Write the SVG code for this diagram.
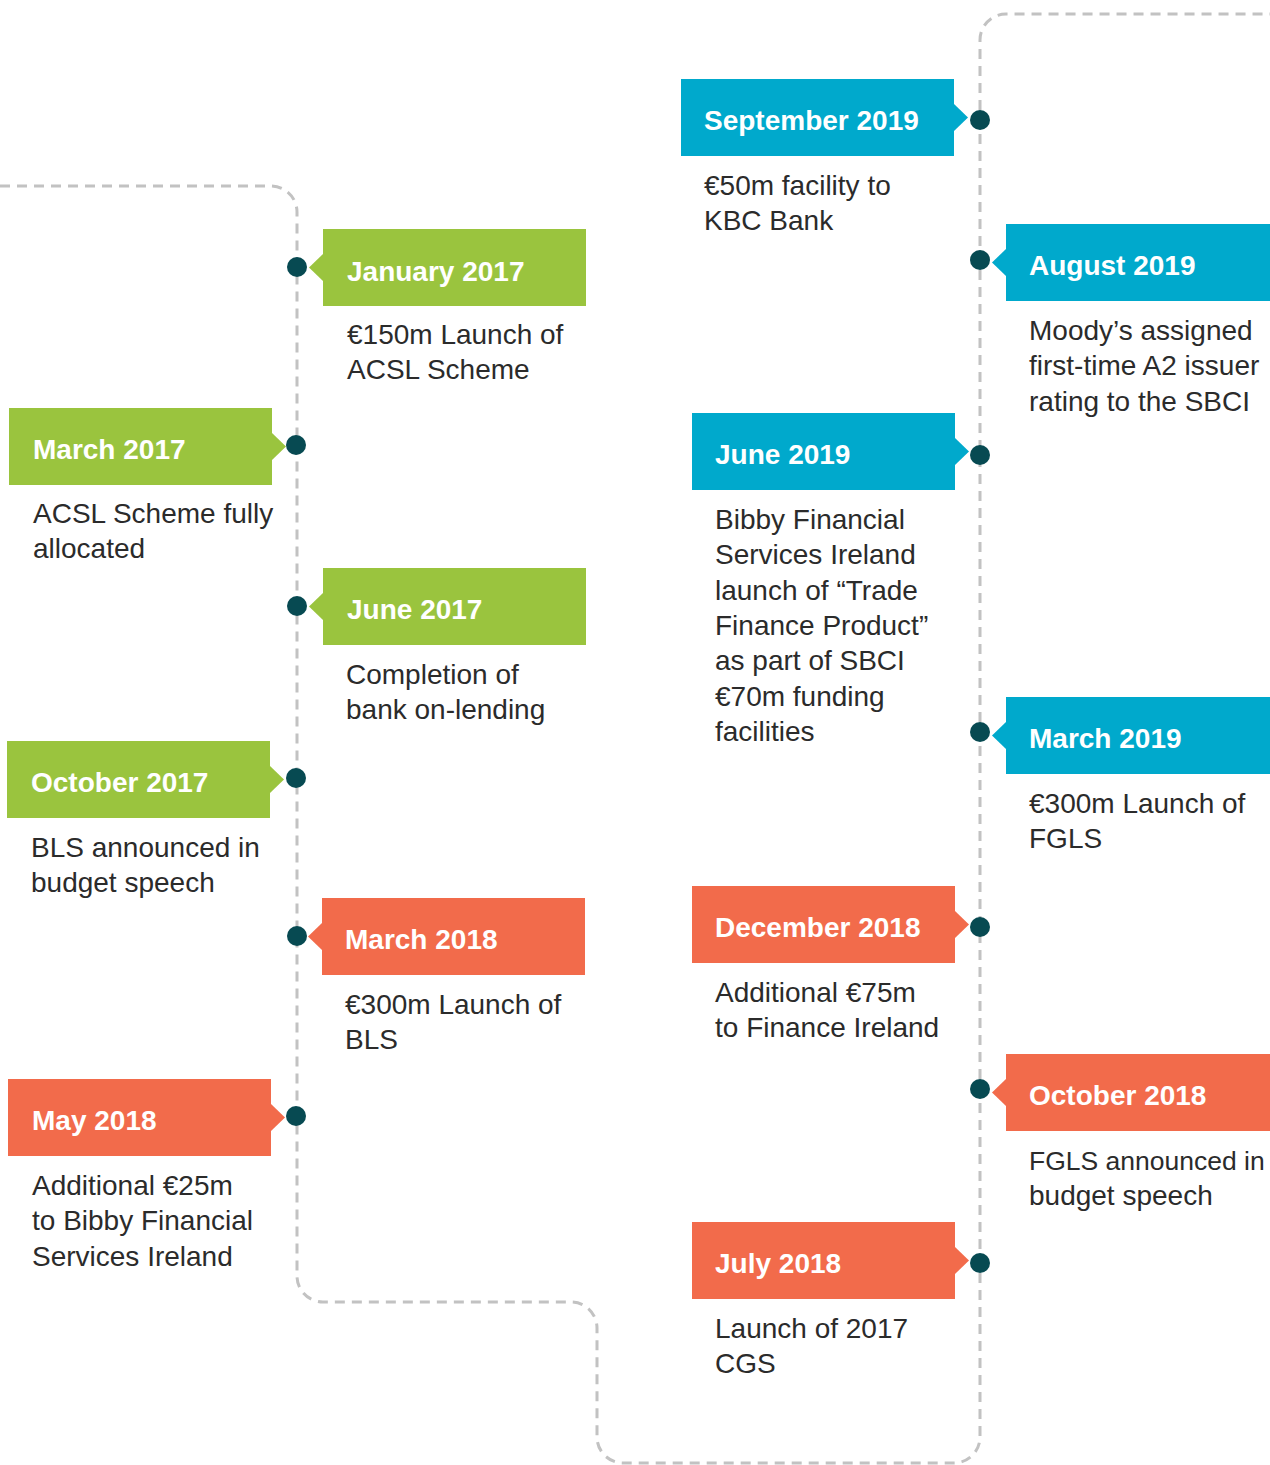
<svg xmlns="http://www.w3.org/2000/svg" width="1270" height="1465" viewBox="0 0 1270 1465">
<style>
.g{fill:#9ac43e}.b{fill:#00a9cc}.o{fill:#f26b4b}
.dot{fill:#074a52}
.t{font-family:"Liberation Sans",Arial,sans-serif;font-weight:bold;font-size:28px;fill:#ffffff}
.d{font-family:"Liberation Sans",Arial,sans-serif;font-size:28px;fill:#2b2b2b}
.line{fill:none;stroke:#c2c2c2;stroke-width:3;stroke-dasharray:10 7}
</style>
<rect width="1270" height="1465" fill="#ffffff"/>
<g id="connectors">
<path class="line" d="M0,186 H271 A26,26 0 0 1 297,212 V1276 A26,26 0 0 0 323,1302 H571 A26,26 0 0 1 597,1328 V1437 A26,26 0 0 0 623,1463 H954 A26,26 0 0 0 980,1437 V40 A26,26 0 0 1 1006,14 H1270"/>
</g>
<g id="n-jan2017">
<rect class="g" x="323" y="229" width="263" height="77"/>
<polygon class="g" points="323,254 309,267.5 323,281"/>
<circle class="dot" cx="297" cy="267" r="10"/>
<text class="t" x="347" y="281">January 2017</text>
<text class="d" x="347" y="344"><tspan x="347">€150m Launch of</tspan><tspan x="347" dy="35.3">ACSL Scheme</tspan></text>
</g>
<g id="n-mar2017">
<rect class="g" x="9" y="408" width="263" height="77"/>
<polygon class="g" points="272,433 286,446.5 272,460"/>
<circle class="dot" cx="296" cy="445" r="10"/>
<text class="t" x="33" y="459">March 2017</text>
<text class="d" x="33" y="523"><tspan x="33">ACSL Scheme fully</tspan><tspan x="33" dy="35.3">allocated</tspan></text>
</g>
<g id="n-jun2017">
<rect class="g" x="323" y="568" width="263" height="77"/>
<polygon class="g" points="323,593 309,606.5 323,620"/>
<circle class="dot" cx="297" cy="606" r="10"/>
<text class="t" x="347" y="619">June 2017</text>
<text class="d" x="346" y="684"><tspan x="346">Completion of</tspan><tspan x="346" dy="35.3">bank on-lending</tspan></text>
</g>
<g id="n-oct2017">
<rect class="g" x="7" y="741" width="263" height="77"/>
<polygon class="g" points="270,766 284,779.5 270,793"/>
<circle class="dot" cx="296" cy="778" r="10"/>
<text class="t" x="31" y="792">October 2017</text>
<text class="d" x="31" y="857"><tspan x="31">BLS announced in</tspan><tspan x="31" dy="35.3">budget speech</tspan></text>
</g>
<g id="n-mar2018">
<rect class="o" x="322" y="898" width="263" height="77"/>
<polygon class="o" points="322,923 308,936.5 322,950"/>
<circle class="dot" cx="297" cy="936" r="10"/>
<text class="t" x="345" y="949">March 2018</text>
<text class="d" x="345" y="1014"><tspan x="345">€300m Launch of</tspan><tspan x="345" dy="35.3">BLS</tspan></text>
</g>
<g id="n-may2018">
<rect class="o" x="8" y="1079" width="263" height="77"/>
<polygon class="o" points="271,1104 285,1117.5 271,1131"/>
<circle class="dot" cx="296" cy="1116" r="10"/>
<text class="t" x="32" y="1130">May 2018</text>
<text class="d" x="32" y="1195"><tspan x="32">Additional €25m</tspan><tspan x="32" dy="35.3">to Bibby Financial</tspan><tspan x="32" dy="35.3">Services Ireland</tspan></text>
</g>
<g id="n-sep2019">
<rect class="b" x="681" y="79" width="273" height="77"/>
<polygon class="b" points="954,104 968,117.5 954,131"/>
<circle class="dot" cx="980" cy="120" r="10"/>
<text class="t" x="704" y="130">September 2019</text>
<text class="d" x="704" y="195"><tspan x="704">€50m facility to</tspan><tspan x="704" dy="35.3">KBC Bank</tspan></text>
</g>
<g id="n-aug2019">
<rect class="b" x="1006" y="224" width="264" height="77"/>
<polygon class="b" points="1006,249 992,262.5 1006,276"/>
<circle class="dot" cx="980" cy="260" r="10"/>
<text class="t" x="1029" y="275">August 2019</text>
<text class="d" x="1029" y="340"><tspan x="1029">Moody’s assigned</tspan><tspan x="1029" dy="35.3">first-time A2 issuer</tspan><tspan x="1029" dy="35.3">rating to the SBCI</tspan></text>
</g>
<g id="n-jun2019">
<rect class="b" x="692" y="413" width="263" height="77"/>
<polygon class="b" points="955,438 969,451.5 955,465"/>
<circle class="dot" cx="980" cy="455" r="10"/>
<text class="t" x="715" y="464">June 2019</text>
<text class="d" x="715" y="529"><tspan x="715">Bibby Financial</tspan><tspan x="715" dy="35.3">Services Ireland</tspan><tspan x="715" dy="35.3">launch of “Trade</tspan><tspan x="715" dy="35.3">Finance Product”</tspan><tspan x="715" dy="35.3">as part of SBCI</tspan><tspan x="715" dy="35.3">€70m funding</tspan><tspan x="715" dy="35.3">facilities</tspan></text>
</g>
<g id="n-mar2019">
<rect class="b" x="1006" y="697" width="264" height="77"/>
<polygon class="b" points="1006,722 992,735.5 1006,749"/>
<circle class="dot" cx="980" cy="732" r="10"/>
<text class="t" x="1029" y="748">March 2019</text>
<text class="d" x="1029" y="813"><tspan x="1029">€300m Launch of</tspan><tspan x="1029" dy="35.3">FGLS</tspan></text>
</g>
<g id="n-dec2018">
<rect class="o" x="692" y="886" width="263" height="77"/>
<polygon class="o" points="955,911 969,924.5 955,938"/>
<circle class="dot" cx="980" cy="927" r="10"/>
<text class="t" x="715" y="937">December 2018</text>
<text class="d" x="715" y="1002"><tspan x="715">Additional €75m</tspan><tspan x="715" dy="35.3">to Finance Ireland</tspan></text>
</g>
<g id="n-oct2018">
<rect class="o" x="1006" y="1054" width="264" height="77"/>
<polygon class="o" points="1006,1079 992,1092.5 1006,1106"/>
<circle class="dot" cx="980" cy="1089" r="10"/>
<text class="t" x="1029" y="1105">October 2018</text>
<text class="d" x="1029" y="1170" style="font-size:26.5px">FGLS announced in</text>
<text class="d" x="1029" y="1205.3">budget speech</text>
</g>
<g id="n-jul2018">
<rect class="o" x="692" y="1222" width="263" height="77"/>
<polygon class="o" points="955,1247 969,1260.5 955,1274"/>
<circle class="dot" cx="980" cy="1263" r="10"/>
<text class="t" x="715" y="1273">July 2018</text>
<text class="d" x="715" y="1338"><tspan x="715">Launch of 2017</tspan><tspan x="715" dy="35.3">CGS</tspan></text>
</g>
</svg>
